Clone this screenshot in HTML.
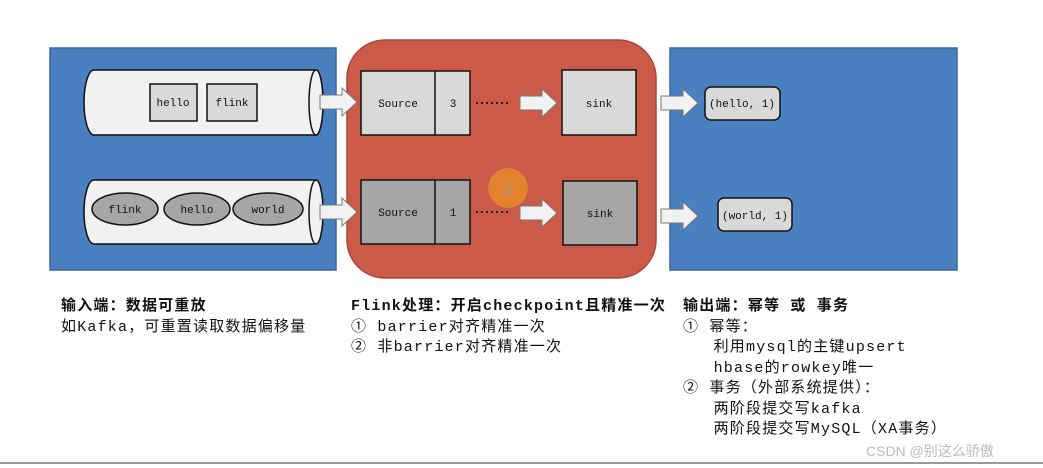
<!DOCTYPE html>
<html><head><meta charset="utf-8"><style>
body{margin:0;width:1043px;height:468px;background:#fff;position:relative;overflow:hidden;font-family:"Liberation Mono","Noto Sans CJK SC",monospace}
.t{position:absolute;font-family:"Liberation Mono","Noto Sans CJK SC",monospace;font-size:15px;letter-spacing:1.2px;line-height:20.5px;color:#111;white-space:pre}
.b{font-weight:bold}
</style></head><body>
<svg width="1043" height="468" style="position:absolute;left:0;top:0" font-family="Liberation Mono, DejaVu Sans Mono, monospace" font-size="11">
<defs>
<g id="arr"><path d="M0,-7 H22 V-14 L37,0 L22,14 V7 H0 Z" fill="#f2f2f2" stroke="#777" stroke-width="1"/></g>
</defs>
<rect x="50" y="48" width="286" height="222" fill="#4a7fc0" stroke="#3b68a0" stroke-width="1.5"/>
<rect x="670" y="48" width="287" height="222" fill="#4a7fc0" stroke="#3b68a0" stroke-width="1.5"/>
<rect x="347" y="40" width="309" height="238" rx="38" fill="#cc5a48" stroke="#a8463a" stroke-width="1.5"/>
<g stroke="#111" stroke-width="1.5" fill="#f1f1f1">
<path d="M94,70 H316 A7,32.5 0 0 1 316,135 H94 A10,32.5 0 0 1 94,70 Z"/>
<ellipse cx="316" cy="102.5" rx="7" ry="32.5"/>
<path d="M94,180 H316 A7,32 0 0 1 316,244 H94 A10,32 0 0 1 94,180 Z"/>
<ellipse cx="316" cy="212" rx="7" ry="32"/>
</g>
<g stroke="#111" stroke-width="1.5" fill="#d9d9d9">
<rect x="150" y="84" width="47" height="37"/>
<rect x="207" y="84" width="50" height="37"/>
</g>
<g stroke="#111" stroke-width="1.5" fill="#a6a6a6">
<ellipse cx="125" cy="209" rx="33" ry="16"/>
<ellipse cx="197" cy="209" rx="33" ry="16"/>
<ellipse cx="268" cy="209" rx="35" ry="16"/>
</g>
<g text-anchor="middle" fill="#111">
<text x="173" y="106">hello</text><text x="232" y="106">flink</text>
<text x="125" y="213">flink</text><text x="197" y="213">hello</text><text x="268" y="213">world</text>
</g>
<g stroke="#111" stroke-width="1.5">
<rect x="361" y="71" width="109" height="64" fill="#d9d9d9"/><line x1="435" y1="71" x2="435" y2="135"/>
<rect x="361" y="180" width="109" height="64" fill="#a6a6a6"/><line x1="435" y1="180" x2="435" y2="244"/>
<rect x="562" y="70" width="74" height="65" fill="#d9d9d9"/>
<rect x="563" y="181" width="74" height="64" fill="#a6a6a6"/>
</g>
<g text-anchor="middle" fill="#111">
<text x="398" y="107">Source</text><text x="453" y="107">3</text>
<text x="398" y="216">Source</text><text x="453" y="216">1</text>
<text x="599" y="107">sink</text><text x="600" y="217">sink</text>
</g>
<line x1="476" y1="103" x2="510" y2="103" stroke="#222" stroke-width="2" stroke-dasharray="2,3"/>
<line x1="476" y1="212" x2="510" y2="212" stroke="#222" stroke-width="2" stroke-dasharray="2,3"/>
<circle cx="508" cy="188" r="20" fill="#e8892d" opacity="0.85"/>
<text x="508" y="194" text-anchor="middle" fill="#999" font-size="16">I</text>
<use href="#arr" x="320" y="102"/><use href="#arr" x="320" y="212"/>
<use href="#arr" x="520" y="103"/><use href="#arr" x="520" y="213"/>
<use href="#arr" x="661" y="103"/><use href="#arr" x="661" y="216"/>
<rect x="705" y="87" width="75" height="33" rx="6" fill="#d9d9d9" stroke="#111" stroke-width="1.5"/>
<rect x="718" y="198" width="74" height="33" rx="6" fill="#d9d9d9" stroke="#111" stroke-width="1.5"/>
<text x="742" y="107" text-anchor="middle" fill="#111">(hello, 1)</text>
<text x="755" y="219" text-anchor="middle" fill="#111">(world, 1)</text>
<line x1="0" y1="463" x2="1043" y2="463" stroke="#999" stroke-width="2"/>
</svg>
<div class="t" style="left:61px;top:297px"><span class="b">输入端：数据可重放</span>
如Kafka，可重置读取数据偏移量</div>
<div class="t" style="left:351px;top:297px"><span class="b">Flink处理：开启checkpoint且精准一次</span>
① barrier对齐精准一次
② 非barrier对齐精准一次</div>
<div class="t" style="left:683px;top:297px"><span class="b">输出端：幂等 或 事务</span>
① 幂等：
   利用mysql的主键upsert
   hbase的rowkey唯一
② 事务（外部系统提供）：
   两阶段提交写kafka
   两阶段提交写MySQL（XA事务）</div>
<div style="position:absolute;left:866px;top:441px;font-family:'Liberation Sans','Noto Sans CJK SC',sans-serif;font-size:14px;color:#bbb">CSDN @别这么骄傲</div>
</body></html>
